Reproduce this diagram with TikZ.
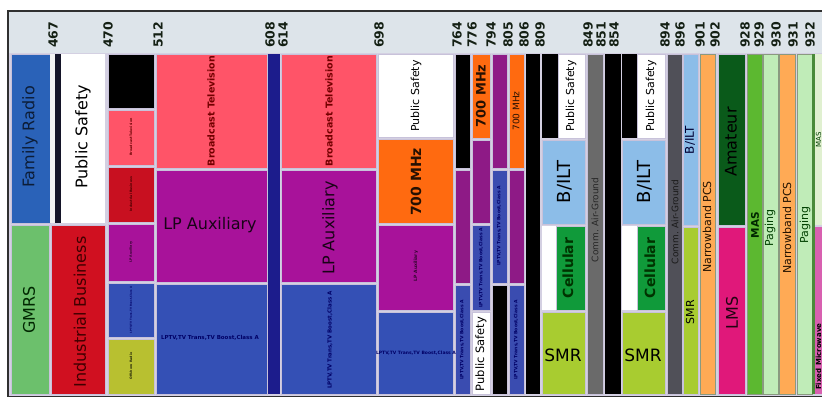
\documentclass[tikz,border=0pt]{standalone}
\usepackage{fontspec}
\setmainfont{DejaVu Sans}
\newcommand\fsz[1]{\fontsize{#1}{#1}\selectfont}
\definecolor{hdr}{HTML}{DDE4EA}
\definecolor{gridbg}{HTML}{D4D0E2}
\definecolor{cellline}{HTML}{C8C2DA}
\definecolor{framec}{HTML}{303030}
\definecolor{numcol}{HTML}{142014}
\definecolor{famblue}{HTML}{2A62B8}
\definecolor{gmrs}{HTML}{6CC06C}
\definecolor{indred}{HTML}{D01020}
\definecolor{darkbar}{HTML}{141428}
\definecolor{bcpink}{HTML}{FF5468}
\definecolor{cred}{HTML}{C81020}
\definecolor{lpmag}{HTML}{A8129A}
\definecolor{lpblue}{HTML}{3450B5}
\definecolor{offyel}{HTML}{B8C030}
\definecolor{navy}{HTML}{1C1C8C}
\definecolor{orange7}{HTML}{FF6A10}
\definecolor{dmag}{HTML}{8E1A86}
\definecolor{dblue}{HTML}{3A4CB0}
\definecolor{bilt}{HTML}{8CBDE8}
\definecolor{cell}{HTML}{109A3A}
\definecolor{smr}{HTML}{A8CC30}
\definecolor{airgnd}{HTML}{6A6A6A}
\definecolor{dgray}{HTML}{505058}
\definecolor{nbpcs}{HTML}{FFAA55}
\definecolor{amateur}{HTML}{0A5A1A}
\definecolor{lms}{HTML}{E0187A}
\definecolor{mas}{HTML}{5CB830}
\definecolor{paging}{HTML}{C0ECB8}
\definecolor{maslt}{HTML}{E0F0D0}
\definecolor{fixedmw}{HTML}{D860B0}
\definecolor{edgegreen}{HTML}{4A8A3A}
\definecolor{greenline}{HTML}{8A9A80}
\begin{document}
\begin{tikzpicture}[x=1pt,y=-1pt,
  box/.style={draw=cellline,line width=0.6pt},
  gbox/.style={draw=greenline,line width=0.6pt},
  vt/.style={rotate=90,inner sep=0pt},
  hnum/.style={rotate=90,anchor=west,inner sep=0pt,font=\bfseries\fsz{12.5},text=numcol},
  tinyt/.style={vt,font=\bfseries\fsz{4.5}},
  microt/.style={vt,font=\bfseries\fsz{3.2}},
  bigt/.style={font=\fsz{16}}]
\useasboundingbox (0,0) rectangle (822,401);
\begin{scope}
\clip (0,0) rectangle (822,401);
\fill[white] (0,0) rectangle (822,401);
\fill[hdr] (9,12) rectangle (822,53);
\fill[gridbg] (9,53) rectangle (822,396);
% column A
\path[box,fill=famblue] (11,54) rectangle (50,223);
\path[box,fill=gmrs] (11,225) rectangle (49,394);
% column B
\path[fill=white!90!gray] (50,54) rectangle (55,223);
\path[fill=darkbar] (55,54) rectangle (61,223);
\path[fill=white] (61,54) rectangle (105,223);
\path[box,fill=indred] (51,225) rectangle (105,394);
% column C
\path[box,fill=black] (108,54) rectangle (154,108);
\path[box,fill=bcpink] (108,110) rectangle (154,165);
\path[box,fill=cred] (108,167) rectangle (154,222);
\path[box,fill=lpmag] (108,224) rectangle (154,281);
\path[box,fill=lpblue] (108,283) rectangle (154,337);
\path[box,fill=offyel] (108,339) rectangle (154,394);
% column D
\path[box,fill=bcpink] (156,54) rectangle (267,168);
\path[box,fill=lpmag] (156,170) rectangle (267,282);
\path[box,fill=lpblue] (156,284) rectangle (267,394);
% column E
\path[fill=navy] (268,54) rectangle (280,394);
% column F
\path[box,fill=bcpink] (281,54) rectangle (376,168);
\path[box,fill=lpmag] (281,170) rectangle (376,282);
\path[box,fill=lpblue] (281,284) rectangle (376,394);
% column G
\path[box,fill=white] (378,54) rectangle (453,137);
\path[box,fill=orange7] (378,139) rectangle (453,223);
\path[box,fill=lpmag] (378,225) rectangle (453,310);
\path[box,fill=lpblue] (378,312) rectangle (453,394);
% column H
\path[box,fill=black] (455,54) rectangle (470,168);
\path[box,fill=dmag] (455,170) rectangle (470,283);
\path[box,fill=dblue] (455,285) rectangle (470,394);
% column I
\path[box,fill=orange7] (472,54) rectangle (490,138);
\path[box,fill=dmag] (472,140) rectangle (490,223);
\path[box,fill=dblue] (472,225) rectangle (490,310);
\path[box,fill=white] (472,312) rectangle (490,394);
% column J
\path[box,fill=dmag] (492,54) rectangle (507,168);
\path[box,fill=dblue] (492,170) rectangle (507,283);
\path[box,fill=black] (492,285) rectangle (507,394);
% column K
\path[box,fill=orange7] (509,54) rectangle (524,168);
\path[box,fill=dmag] (509,170) rectangle (524,283);
\path[box,fill=dblue] (509,285) rectangle (524,394);
% column L
\path[fill=black] (526,54) rectangle (540,394);
% column M
\path[fill=black] (542,54) rectangle (558,138);
\path[box,fill=white] (558,54) rectangle (585,138);
\path[box,fill=bilt] (542,140) rectangle (585,224);
\path[fill=white] (542,226) rectangle (556,310);
\path[box,fill=cell] (556,226) rectangle (585,310);
\path[box,fill=smr] (542,312) rectangle (585,394);
% column N
\path[box,fill=airgnd] (587,54) rectangle (603,394);
% column O
\path[fill=black] (605,54) rectangle (621,394);
% column P
\path[fill=black] (622,54) rectangle (637,138);
\path[box,fill=white] (637,54) rectangle (665,138);
\path[box,fill=bilt] (622,140) rectangle (665,224);
\path[fill=white] (622,226) rectangle (637,310);
\path[box,fill=cell] (637,226) rectangle (665,310);
\path[box,fill=smr] (622,312) rectangle (665,394);
% column Q
\path[box,fill=dgray] (667,54) rectangle (682,394);
% column R
\path[box,fill=bilt] (683,54) rectangle (698,225);
\path[box,fill=smr] (683,227) rectangle (698,394);
% column S
\path[gbox,fill=nbpcs] (700,54) rectangle (715,394);
% column T
\path[box,fill=amateur] (718,54) rectangle (745,225);
\path[box,fill=lms] (718,227) rectangle (745,394);
% columns U-X
\path[gbox,fill=mas] (747,54) rectangle (762,394);
\path[gbox,fill=paging] (763,54) rectangle (778,394);
\path[gbox,fill=nbpcs] (779,54) rectangle (795,394);
\path[gbox,fill=paging] (797,54) rectangle (812,394);
% column Y
\path[fill=edgegreen] (812,54) rectangle (815,394);
\path[fill=maslt] (815,54) rectangle (823,225);
\path[fill=fixedmw] (815,227) rectangle (823,394);
% frame
\draw[framec,line width=1.4pt] (823,11) -- (8,11) -- (8,396.5) -- (823,396.5);

% header numbers
\foreach \xx/\tt in {53/467,108/470,158/512,270/608,283/614,379/698,457/764,472/776,491/794,508/805,524/806,540/809,588/849,601/851,614/854,665/894,680/896,700/901,715/902,745/928,759/929,776/930,793/931,810/932}
  \node[hnum] (n\tt) at (\xx,48) {\tt};

% column A/B texts
\node[vt,bigt,text=black!70!famblue] (tfam) at (30,137) {Family Radio};
\node[vt,bigt,text=black!85!green] (tgmrs) at (29,310) {GMRS};
\node[vt,bigt,text=black] (tps1) at (83,137) {Public Safety};
\node[vt,bigt,text=black!75!red] (tind) at (80,312) {Industrial Business};
% column C tiny texts
\node[microt,text=black!60!red] (tc1) at (131,137) {Broadcast Television};
\node[microt,text=black!70!red] (tc2) at (131,194) {Industrial Business};
\node[microt,text=black!70!lpmag] (tc3) at (131,252) {LP Auxiliary};
\node[vt,font=\bfseries\fsz{2.6},text=black!60!blue] (tc4) at (131,310) {LPTV,TV Trans,TV Boost,Class A};
\node[microt,text=black!80!offyel] (tc5) at (131,366) {Offshore Radio};
% column D
\node[vt,font=\bfseries\fsz{9.5},text=black!55!red] (td1) at (211,111) {Broadcast Television};
\node[bigt,text=black!85!lpmag,inner sep=0pt] (td2) at (210,225) {LP Auxiliary};
\node[font=\bfseries\fsz{5.5},text=black!60!blue,inner sep=0pt] (td3) at (210,338) {LPTV,TV Trans,TV Boost,Class A};
% column F
\node[vt,font=\bfseries\fsz{9.5},text=black!55!red] (tf1) at (329,111) {Broadcast Television};
\node[vt,bigt,text=black!85!lpmag] (tf2) at (330,228) {LP Auxiliary};
\node[vt,font=\bfseries\fsz{5.5},text=black!60!blue] (tf3) at (330,340) {LPTV,TV Trans,TV Boost,Class A};
% column G
\node[vt,font=\fsz{11},text=black] (tg1) at (416,96) {Public Safety};
\node[vt,font=\bfseries\fsz{14},text=black!85!orange7] (tg2) at (416,182) {700 MHz};
\node[tinyt,text=black!70!lpmag] (tg3) at (416,266) {LP Auxiliary};
\node[font=\bfseries\fsz{4.5},text=black!60!blue,inner sep=0pt] (tg4) at (416,353) {LPTV,TV Trans,TV Boost,Class A};
% columns H-K
\node[tinyt,text=black!60!blue] (th1) at (462,340) {LPTV,TV Trans,TV Boost,Class A};
\node[vt,font=\bfseries\fsz{13},text=black!85!orange7] (ti1) at (481,96) {700 MHz};
\node[tinyt,text=black!60!blue] (ti2) at (481,268) {LPTV,TV Trans,TV Boost,Class A};
\node[vt,font=\fsz{11.5},text=black] (ti3) at (481,354) {Public Safety};
\node[tinyt,text=black!60!blue] (tj1) at (499,226) {LPTV,TV Trans,TV Boost,Class A};
\node[vt,font=\fsz{9},text=black!85!orange7] (tk1) at (516,111) {700 MHz};
\node[tinyt,text=black!60!blue] (tk2) at (516,340) {LPTV,TV Trans,TV Boost,Class A};
% column M
\node[vt,font=\fsz{11},text=black] (tm1) at (571,96) {Public Safety};
\node[vt,font=\fsz{18},text=black] (tm2) at (565,182) {B/ILT};
\node[vt,font=\bfseries\fsz{14},text=black!80!green] (tm3) at (568,268) {Cellular};
\node[font=\fsz{17},text=black,inner sep=0pt] (tm4) at (563,355) {SMR};
% column N, Q
\node[vt,font=\fsz{9},text=black!85!white] (tn1) at (595,220) {Comm. Air-Ground};
\node[vt,font=\fsz{9},text=black!90!white] (tq1) at (675,222) {Comm. Air-Ground};
% column P
\node[vt,font=\fsz{11},text=black] (tp1) at (651,96) {Public Safety};
\node[vt,font=\fsz{18},text=black] (tp2) at (645,182) {B/ILT};
\node[vt,font=\bfseries\fsz{14},text=black!80!green] (tp3) at (650,268) {Cellular};
\node[font=\fsz{17},text=black,inner sep=0pt] (tp4) at (643,355) {SMR};
% right columns
\node[vt,font=\fsz{12},text=black!80!blue] (tr1) at (690,140) {B/ILT};
\node[vt,font=\fsz{11},text=black] (tr2) at (690,312) {SMR};
\node[vt,font=\fsz{11},text=black!85!orange] (ts1) at (707,227) {Narrowband PCS};
\node[vt,bigt,text=black] (tt1) at (731,142) {Amateur};
\node[vt,bigt,text=black!85!lms] (tt2) at (732,313) {LMS};
\node[vt,font=\bfseries\fsz{10.5},text=black!85!green] (tu1) at (755,225) {MAS};
\node[vt,font=\fsz{11},text=black!75!green] (tv1) at (770,228) {Paging};
\node[vt,font=\fsz{11},text=black!85!orange] (tw1) at (787,228) {Narrowband PCS};
\node[vt,font=\fsz{11},text=black!75!green] (tx1) at (805,225) {Paging};
\node[vt,font=\fsz{7},text=black!75!green] (ty1) at (818.5,140) {MAS};
\node[vt,font=\bfseries\fsz{7},text=black,anchor=west] (ty2) at (818.5,390) {Fixed Microwave};
\end{scope}
\end{tikzpicture}
\end{document}
